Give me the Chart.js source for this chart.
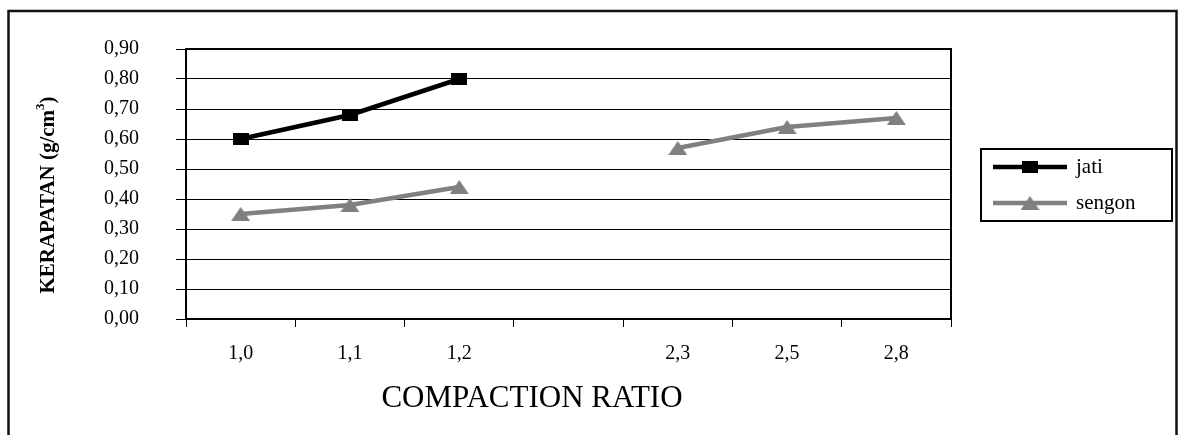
<!DOCTYPE html>
<html>
<head>
<meta charset="utf-8">
<script src="https://cdn.jsdelivr.net/npm/chart.js@4/dist/chart.umd.min.js"></script>
<style>
html,body{margin:0;padding:0;background:#fff;}
#wrap{width:1178px;height:435px;}
</style>
</head>
<body>
<div id="wrap"><canvas id="c" width="1178" height="435"></canvas></div>
<script>
const categories = ['1,0', '1,1', '1,2', '', '2,3', '2,5', '2,8'];
const jati = [0.60, 0.68, 0.80, null, null, null, null];
const sengon = [0.35, 0.38, 0.44, null, 0.57, 0.64, 0.67];
const seriesNames = ['jati', 'sengon'];
const yTickLabels = ['0,00', '0,10', '0,20', '0,30', '0,40', '0,50', '0,60', '0,70', '0,80', '0,90'];
const xTitle = 'COMPACTION RATIO';
const yTitleMain = 'KERAPATAN (g/cm';
const yTitleSup = '3';
const yTitleEnd = ')';

const FONT = "'Liberation Serif', 'Times New Roman', serif";
Chart.defaults.font.family = FONT;
Chart.defaults.color = '#000';

function squareMarker(w, h, color) {
  const c = document.createElement('canvas');
  c.width = w; c.height = h;
  const g = c.getContext('2d');
  g.fillStyle = color; g.fillRect(0, 0, w, h);
  return c;
}
function triangleMarker(w, h, color) {
  const c = document.createElement('canvas');
  c.width = w; c.height = h;
  const g = c.getContext('2d');
  g.fillStyle = color;
  g.beginPath(); g.moveTo(w / 2, 0); g.lineTo(w, h); g.lineTo(0, h); g.closePath(); g.fill();
  return c;
}
const jatiColor = '#000000';
const sengonColor = '#808080';
const jatiMarker = squareMarker(16, 12, jatiColor);
const sengonMarker = triangleMarker(19, 14, sengonColor);

const decor = {
  id: 'decor',
  beforeDraw(chart) {
    const ctx = chart.ctx;
    ctx.save();
    ctx.fillStyle = '#fff';
    ctx.fillRect(0, 0, chart.width, chart.height);
    ctx.strokeStyle = '#111';
    ctx.lineWidth = 2.5;
    ctx.strokeRect(8.5, 11, 1168, 500);
    ctx.restore();
  },
  afterDraw(chart) {
    const ctx = chart.ctx;
    const a = chart.chartArea;
    ctx.save();
    // plot frame
    ctx.strokeStyle = '#000';
    ctx.lineWidth = 2;
    ctx.strokeRect(a.left, a.top, a.right - a.left, a.bottom - a.top);
    // x title
    ctx.fillStyle = '#000';
    ctx.font = '31px ' + FONT;
    ctx.textAlign = 'center';
    ctx.textBaseline = 'middle';
    ctx.fillText(xTitle, 532, 399);
    // y title (rotated)
    ctx.translate(47, 195);
    ctx.rotate(-Math.PI / 2);
    ctx.font = 'bold 21px ' + FONT;
    const supFont = 'bold 13px ' + FONT;
    const w1 = ctx.measureText(yTitleMain).width;
    const w3 = ctx.measureText(yTitleEnd).width;
    ctx.font = supFont;
    const w2 = ctx.measureText(yTitleSup).width;
    const total = w1 + w2 + w3;
    let x = -total / 2;
    ctx.textAlign = 'left';
    ctx.textBaseline = 'alphabetic';
    ctx.font = 'bold 21px ' + FONT;
    ctx.fillText(yTitleMain, x, 7);
    x += w1;
    ctx.font = supFont;
    ctx.fillText(yTitleSup, x, -3);
    x += w2;
    ctx.font = 'bold 21px ' + FONT;
    ctx.fillText(yTitleEnd, x, 7);
    ctx.restore();

    // legend
    ctx.save();
    ctx.strokeStyle = '#000';
    ctx.lineWidth = 2;
    ctx.strokeRect(981, 149, 191, 72);
    const rows = [167, 203];
    chart.data.datasets.forEach((ds, i) => {
      const y = rows[i];
      ctx.strokeStyle = ds.borderColor;
      ctx.lineWidth = 4.5;
      ctx.beginPath(); ctx.moveTo(993, y); ctx.lineTo(1067, y); ctx.stroke();
      const m = ds.pointStyle;
      ctx.drawImage(m, 1030 - m.width / 2, y - m.height / 2);
      ctx.fillStyle = '#000';
      ctx.font = '21px ' + FONT;
      ctx.textAlign = 'left';
      ctx.textBaseline = 'middle';
      ctx.fillText(ds.label, 1076, y);
    });
    ctx.restore();
  }
};

new Chart(document.getElementById('c'), {
  type: 'line',
  data: {
    labels: categories,
    datasets: [
      {
        label: seriesNames[0], data: jati,
        borderColor: jatiColor, backgroundColor: jatiColor, borderWidth: 4.5,
        pointStyle: jatiMarker, pointRadius: 8, spanGaps: false, tension: 0
      },
      {
        label: seriesNames[1], data: sengon,
        borderColor: sengonColor, backgroundColor: sengonColor, borderWidth: 4.5,
        pointStyle: sengonMarker, pointRadius: 8, spanGaps: false, tension: 0
      }
    ]
  },
  options: {
    responsive: false,
    animation: false,
    events: [],
    layout: { padding: { left: 0, top: 49, right: 227, bottom: 0 } },
    plugins: { legend: { display: false }, tooltip: { enabled: false }, title: { display: false } },
    scales: {
      x: {
        type: 'category',
        offset: true,
        grid: { display: true, offset: true, drawOnChartArea: false, drawTicks: true, tickLength: 8, color: '#000', lineWidth: 1 },
        border: { display: true, color: '#000', width: 2 },
        ticks: { font: { size: 20 }, color: '#000', padding: 15, maxRotation: 0, autoSkip: false },
        afterFit(s) { s.height = 116; }
      },
      y: {
        min: 0, max: 0.9,
        grid: { color: '#000', lineWidth: 1, drawTicks: true, tickLength: 10 },
        border: { display: true, color: '#000', width: 2 },
        ticks: {
          stepSize: 0.1, font: { size: 20 }, color: '#000', padding: 37,
          callback: (v, i) => yTickLabels[i]
        },
        afterFit(s) { s.width = 186; }
      }
    }
  },
  plugins: [decor]
});
</script>
</body>
</html>
